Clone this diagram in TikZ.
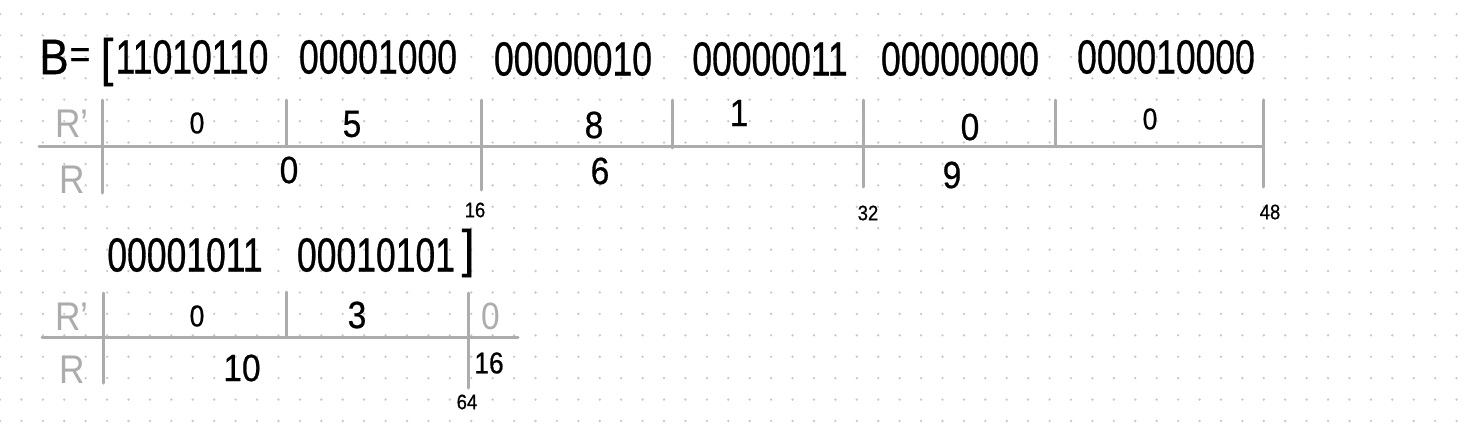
\documentclass[tikz,border=0pt]{standalone}
\usepackage{fontspec}
\setmainfont{Liberation Sans}
\newfontfamily\hand[FakeStretch=0.88,FakeBold=0.6]{Liberation Sans}
\newfontfamily\handbits[FakeStretch=0.74,FakeBold=0.6]{Liberation Sans}
\newfontfamily\handgray[FakeStretch=0.88]{Liberation Sans}
\definecolor{linegray}{RGB}{172,172,172}
\definecolor{dotgray}{RGB}{200,200,200}
\begin{document}
\begin{tikzpicture}[x=1pt,y=-1pt,
  rule/.style={line width=3pt, draw=linegray, line cap=round},
  bits/.style={font=\handbits\fontsize{48}{48}\selectfont, inner sep=0pt},
  val/.style={font=\hand\fontsize{38}{38}\selectfont, inner sep=0pt},
  smallval/.style={font=\hand\fontsize{30}{30}\selectfont, inner sep=0pt},
  lbl/.style={font=\handgray\fontsize{40}{40}\selectfont, text=linegray, inner sep=0pt},
  tick/.style={font=\hand\fontsize{21}{21}\selectfont, inner sep=0pt}]
\useasboundingbox (0,0) rectangle (1471,426);
\fill[white] (0,0) rectangle (1471,426);
\foreach \i in {0,...,68}{\foreach \j in {0,...,19}{\fill[dotgray] (\i*21.42,14+\j*21.42) circle (1.3pt);}}

% ---- row 1 text
\node[font=\hand\fontsize{50}{50}\selectfont, inner sep=0pt] (B) at (54,57) {B};
\node[font=\hand\fontsize{40}{40}\selectfont, inner sep=0pt] (eq) at (80,58) {=};
\node[font=\hand\fontsize{52}{52}\selectfont, inner sep=0pt] (lb) at (107,62) {[};
\node[bits] (b1) at (192,57) {11010110};
\node[bits] (b2) at (378,57) {00001000};
\node[bits] (b3) at (573,59) {00000010};
\node[bits] (b4) at (770,59) {00000011};
\node[bits] (b5) at (960,59) {00000000};
\node[bits] (b6) at (1166,57) {000010000};

% ---- row 1 table
\draw[rule] (39,146) -- (1263,146);
\draw[rule] (102,100) -- (102,193);
\draw[rule] (286,100) -- (286,146);
\draw[rule] (481,100) -- (481,190);
\draw[rule] (672,100) -- (672,148);
\draw[rule] (863,100) -- (863,187);
\draw[rule] (1055,100) -- (1055,146);
\draw[rule] (1263,100) -- (1263,187);
\node[lbl] (rp1) at (72,124) {R’};
\node[lbl] (r1) at (72,180) {R};
\node[smallval] (p1) at (197,123) {0};
\node[val] (p2) at (352,124) {5};
\node[val] (p3) at (594,125) {8};
\node[val] (p4) at (739,113) {1};
\node[val] (p5) at (970,127) {0};
\node[smallval] (p6) at (1150,119) {0};
\node[val] (q1) at (289,170) {0};
\node[val] (q2) at (600,171) {6};
\node[val] (q3) at (952,175) {9};
\node[tick] (t16) at (475,210) {16};
\node[tick] (t32) at (868,213) {32};
\node[tick] (t48) at (1270,212) {48};

% ---- row 2 text
\node[bits] (b7) at (185,255) {00001011};
\node[bits] (b8) at (376,255) {00010101};
\node[font=\hand\fontsize{52}{52}\selectfont, inner sep=0pt] (rb) at (468,253) {]};

% ---- row 2 table
\draw[rule] (42,337) -- (518,337);
\draw[rule] (103,293) -- (103,383);
\draw[rule] (286,292) -- (286,337);
\draw[rule] (468,293) -- (468,388);
\node[lbl] (rp2) at (72,317) {R’};
\node[lbl] (r2) at (72,370) {R};
\node[smallval] (p7) at (197,316) {0};
\node[val] (p8) at (357,315) {3};
\node[val, font=\handgray\fontsize{38}{38}\selectfont, text=linegray] (p9) at (491,316) {0};
\node[val] (q4) at (242,368) {10};
\node[smallval] (q5) at (489,363) {16};
\node[tick] (t64) at (467,402) {64};
\end{tikzpicture}
\end{document}
